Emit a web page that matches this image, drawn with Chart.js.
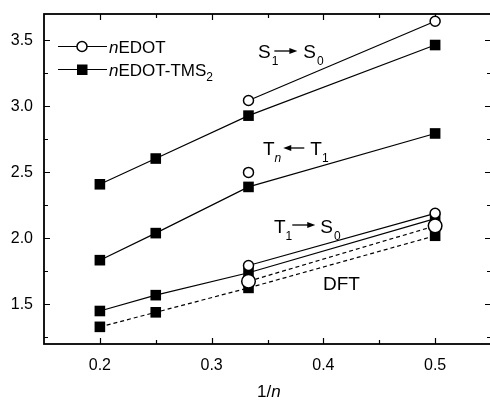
<!DOCTYPE html>
<html>
<head>
<meta charset="utf-8">
<script src="https://cdn.jsdelivr.net/npm/chart.js@4"></script>
<style>
  html, body { margin: 0; padding: 0; background: #fff; overflow: hidden; }
  #wrap { width: 490px; height: 400px; overflow: hidden; }
</style>
</head>
<body>
<div id="wrap"><canvas id="chart" width="492" height="400" style="width:492px;height:400px"></canvas></div>
<script>
// 1/n values (n = 5, 4, 3, 2)
const invN = [0.2, 0.25, 0.333, 0.5];
const invNShort = [0.333, 0.5];
const invNSingle = [0.333];

// excitation energies (eV)
const edotS1 = [3.045, 3.645];
const tmsS1 = [2.41, 2.605, 2.93, 3.465];
const edotTn = [2.50];
const tmsTn = [1.835, 2.04, 2.39, 2.795];
const edotT1 = [1.795, 2.19];
const tmsT1 = [1.45, 1.57, 1.74, 2.15];
const edotDft = [1.675, 2.095];
const tmsDft = [1.33, 1.44, 1.625, 2.02];

// axis ticks (labelled ones are the majors)
const xTicks = [0.2, 0.25, 0.3, 0.35, 0.4, 0.45, 0.5];
const xLabels = ["0.2", "", "0.3", "", "0.4", "", "0.5"];
const yTicks = [1.25, 1.5, 1.75, 2.0, 2.25, 2.5, 2.75, 3.0, 3.25, 3.5];
const yLabels = ["", "1.5", "", "2.0", "", "2.5", "", "3.0", "", "3.5"];

const FONT = "'Liberation Sans', Arial, sans-serif";

function pts(xs, ys) {
  return xs.map((x, i) => ({ x: x, y: ys[i] }));
}

function circleSet(xs, ys, r, dash) {
  return {
    data: pts(xs, ys), showLine: true,
    borderColor: "#000", borderWidth: 1.2, borderDash: dash || [],
    pointStyle: "circle", pointRadius: r, pointBackgroundColor: "#fff",
    pointBorderColor: "#000", pointBorderWidth: 1.5, pointHoverRadius: r
  };
}

function squareSet(xs, ys, dash) {
  return {
    data: pts(xs, ys), showLine: true,
    borderColor: "#000", borderWidth: 1.2, borderDash: dash || [],
    pointStyle: "rect", pointRadius: 7.5, pointBackgroundColor: "#000",
    pointBorderColor: "#000", pointBorderWidth: 0, pointHoverRadius: 7.5
  };
}

function arrow(ctx, x1, x2, y) {
  const dir = x2 > x1 ? 1 : -1;
  ctx.beginPath();
  ctx.moveTo(x1, y);
  ctx.lineTo(x2 - dir * 6, y);
  ctx.lineWidth = 1.3;
  ctx.stroke();
  ctx.beginPath();
  ctx.moveTo(x2, y);
  ctx.lineTo(x2 - dir * 8, y - 3);
  ctx.lineTo(x2 - dir * 8, y + 3);
  ctx.closePath();
  ctx.fill();
}

// text pieces: [text, size, italic, dy, extra gap]
function pieces(ctx, x, y, parts) {
  parts.forEach(p => {
    ctx.font = (p[2] ? "italic " : "") + p[1] + "px " + FONT;
    ctx.fillText(p[0], x, y + (p[3] || 0));
    x += ctx.measureText(p[0]).width + (p[4] || 0);
  });
  return x;
}

function setTicks(values, labels) {
  return s => { s.ticks = values.map((v, i) => ({ value: v, label: labels[i] })); };
}

function noPad(size) {
  return s => {
    if (size.h) s.height = size.h;
    if (size.w) s.width = size.w;
    s.paddingLeft = 0; s.paddingRight = 0; s.paddingTop = 0; s.paddingBottom = 0;
  };
}

const framePlugin = {
  id: "frame",
  beforeDatasetsDraw(chart) {
    const ctx = chart.ctx;
    const a = chart.chartArea;
    const xs = chart.scales.x, ys = chart.scales.y;
    ctx.save();
    ctx.strokeStyle = "#000";
    ctx.lineWidth = 1.2;
    ctx.beginPath();
    xs.ticks.forEach(t => {
      const px = Math.round(xs.getPixelForValue(t.value)) + 0.5;
      const len = t.label ? 6 : 4;
      ctx.moveTo(px, a.bottom); ctx.lineTo(px, a.bottom - len);
      ctx.moveTo(px, a.top); ctx.lineTo(px, a.top + len);
    });
    ys.ticks.forEach(t => {
      const py = Math.round(ys.getPixelForValue(t.value)) + 0.5;
      const len = t.label ? 6 : 4;
      ctx.moveTo(a.left, py); ctx.lineTo(a.left + len, py);
      ctx.moveTo(a.right, py); ctx.lineTo(a.right - len, py);
    });
    ctx.stroke();
    ctx.lineWidth = 1.8;
    ctx.strokeRect(a.left, a.top, a.right - a.left, a.bottom - a.top);
    ctx.restore();
  },
  afterDraw(chart) {
    const ctx = chart.ctx;
    ctx.save();
    ctx.fillStyle = "#000";
    ctx.strokeStyle = "#000";
    ctx.textBaseline = "alphabetic";
    ctx.textAlign = "left";

    // legend
    ctx.lineWidth = 1.2;
    ctx.beginPath();
    ctx.moveTo(58, 46.5); ctx.lineTo(107, 46.5);
    ctx.moveTo(58, 69.5); ctx.lineTo(107, 69.5);
    ctx.stroke();
    ctx.beginPath();
    ctx.arc(82, 46.5, 5, 0, Math.PI * 2);
    ctx.fillStyle = "#fff"; ctx.fill();
    ctx.lineWidth = 1.5; ctx.stroke();
    ctx.fillStyle = "#000";
    ctx.fillRect(77, 64.5, 10.5, 10.5);
    pieces(ctx, 109, 52.5, [["n", 17, true], ["EDOT", 17]]);
    pieces(ctx, 109, 75.5, [["n", 17, true], ["EDOT-TMS", 17], ["2", 12, false, 5]]);

    // transition labels
    let x = pieces(ctx, 258, 58, [["S", 19, false, 0, 1], ["1", 12, false, 7]]);
    arrow(ctx, x - 4, x + 19, 51);
    pieces(ctx, x + 25, 58, [["S", 19, false, 0, 1], ["0", 12, false, 7]]);

    x = pieces(ctx, 263, 155, [["T", 19, false, 0, 0], ["n", 12, true, 7]]);
    arrow(ctx, x + 23, x + 2, 148);
    pieces(ctx, x + 29, 155, [["T", 19, false, 0, 0], ["1", 12, false, 7]]);

    x = pieces(ctx, 274, 233, [["T", 19, false, 0, 0], ["1", 12, false, 7]]);
    arrow(ctx, x, x + 23, 225);
    pieces(ctx, x + 28, 233, [["S", 19, false, 0, 1], ["0", 12, false, 7]]);

    pieces(ctx, 323, 290, [["DFT", 19]]);

    // x axis title
    pieces(ctx, 257, 397, [["1/", 17], ["n", 17, true]]);
    ctx.restore();
  }
};

new Chart(document.getElementById("chart"), {
  type: "scatter",
  data: {
    datasets: [
      circleSet(invNShort, edotS1, 5),
      circleSet(invNSingle, edotTn, 5),
      circleSet(invNShort, edotT1, 5),
      circleSet(invNShort, edotDft, 6.8, [4, 3]),
      squareSet(invN, tmsS1),
      squareSet(invN, tmsTn),
      squareSet(invN, tmsT1),
      squareSet(invN, tmsDft, [4, 3])
    ]
  },
  options: {
    responsive: false,
    animation: false,
    events: [],
    layout: { autoPadding: false, padding: { top: 14, right: 1, left: 0, bottom: 0 } },
    plugins: { legend: { display: false }, tooltip: { enabled: false } },
    scales: {
      x: {
        type: "linear", min: 0.15, max: 0.55,
        afterBuildTicks: setTicks(xTicks, xLabels),
        afterFit: noPad({ h: 56 }),
        grid: { display: false, drawTicks: false },
        border: { display: false },
        ticks: {
          autoSkip: false, maxRotation: 0, padding: 12,
          color: "#000", font: { family: FONT, size: 16 },
          callback(v, i) { return xLabels[i]; }
        }
      },
      y: {
        type: "linear", min: 1.2, max: 3.7,
        afterBuildTicks: setTicks(yTicks, yLabels),
        afterFit: noPad({ w: 44 }),
        grid: { display: false, drawTicks: false },
        border: { display: false },
        ticks: {
          autoSkip: false, padding: 11,
          color: "#000", font: { family: FONT, size: 16 },
          callback(v, i) { return yLabels[i]; }
        }
      }
    }
  },
  plugins: [framePlugin]
});
</script>
</body>
</html>
